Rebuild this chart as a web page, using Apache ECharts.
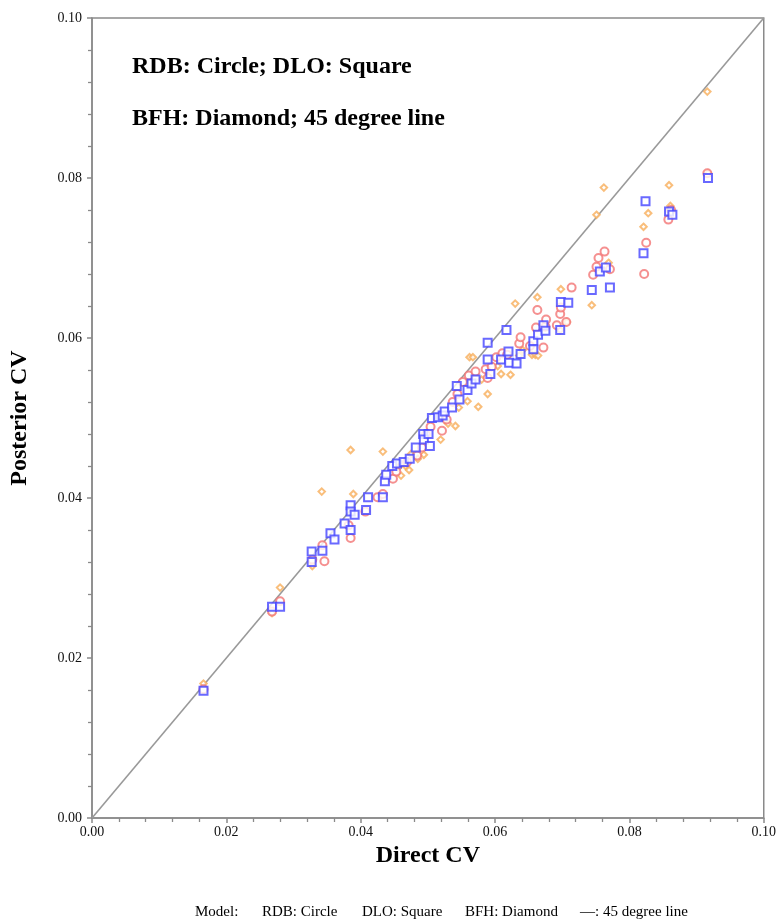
<!DOCTYPE html>
<html>
<head>
<meta charset="utf-8">
<script src="https://cdn.jsdelivr.net/npm/echarts@6/dist/echarts.min.js"></script>
<style>
  html, body { margin: 0; padding: 0; background: #fff; }
  #chart { width: 779px; height: 920px; }
</style>
</head>
<body>
<div id="chart"></div>
<script>
// 轴刻度
const axisTicks = [0, 0.02, 0.04, 0.06, 0.08, 0.10]
// 45 度参考线
const lineX = [0, 0.1]
// 底部说明文字
const footTexts = ['Model:', 'RDB: Circle', 'DLO: Square', 'BFH: Diamond', '\u2014: 45 degree line']
// RDB: circle  [direct CV, posterior CV]
const rdbData = [
    [0.0166, 0.0161], [0.0268, 0.0258], [0.0280, 0.0271], [0.0328, 0.0323], [0.0346, 0.0321],
    [0.0343, 0.0341], [0.0385, 0.0350], [0.0382, 0.0366], [0.0407, 0.0383], [0.0425, 0.0401],
    [0.0433, 0.0405], [0.0448, 0.0424], [0.0453, 0.0433], [0.0469, 0.0445], [0.0484, 0.0453],
    [0.0491, 0.0463], [0.0497, 0.0479], [0.0504, 0.0489], [0.0521, 0.0484], [0.0528, 0.0498],
    [0.0537, 0.0520], [0.0544, 0.0530], [0.0552, 0.0545], [0.0561, 0.0553], [0.0571, 0.0558],
    [0.0586, 0.0561], [0.0589, 0.0550], [0.0595, 0.0564], [0.0602, 0.0576], [0.0611, 0.0581],
    [0.0618, 0.0579], [0.0636, 0.0593], [0.0638, 0.0601], [0.0652, 0.0590], [0.0661, 0.0613],
    [0.0663, 0.0635], [0.0672, 0.0588], [0.0675, 0.0614], [0.0676, 0.0623], [0.0692, 0.0616],
    [0.0697, 0.0630], [0.0698, 0.0638], [0.0706, 0.0620], [0.0714, 0.0663], [0.0746, 0.0679],
    [0.0751, 0.0689], [0.0754, 0.0700], [0.0763, 0.0708], [0.0771, 0.0686], [0.0822, 0.0680],
    [0.0825, 0.0719], [0.0858, 0.0748], [0.0862, 0.0760], [0.0916, 0.0806]
]
// DLO: square
const dloData = [
    [0.0166, 0.0159], [0.0268, 0.0264], [0.0280, 0.0264], [0.0327, 0.0333], [0.0343, 0.0334],
    [0.0327, 0.0320], [0.0355, 0.0356], [0.0361, 0.0348], [0.0376, 0.0368], [0.0385, 0.0391],
    [0.0385, 0.0383], [0.0385, 0.0360], [0.0391, 0.0379], [0.0408, 0.0385], [0.0411, 0.0401],
    [0.0433, 0.0401], [0.0436, 0.0421], [0.0438, 0.0429], [0.0447, 0.0440], [0.0454, 0.0443],
    [0.0464, 0.0445], [0.0473, 0.0449], [0.0482, 0.0463], [0.0493, 0.0480], [0.0494, 0.0473],
    [0.0503, 0.0465], [0.0501, 0.0480], [0.0506, 0.0500], [0.0515, 0.0501], [0.0522, 0.0503],
    [0.0525, 0.0508], [0.0536, 0.0513], [0.0543, 0.0540], [0.0547, 0.0523], [0.0559, 0.0535],
    [0.0565, 0.0543], [0.0571, 0.0548], [0.0589, 0.0594], [0.0589, 0.0573], [0.0593, 0.0555],
    [0.0609, 0.0573], [0.0617, 0.0610], [0.0620, 0.0583], [0.0621, 0.0569], [0.0632, 0.0568],
    [0.0638, 0.0580], [0.0657, 0.0596], [0.0657, 0.0586], [0.0664, 0.0604], [0.0672, 0.0616],
    [0.0675, 0.0609], [0.0697, 0.0610], [0.0698, 0.0645], [0.0709, 0.0644], [0.0744, 0.0660],
    [0.0756, 0.0683], [0.0765, 0.0688], [0.0771, 0.0663], [0.0821, 0.0706], [0.0824, 0.0771],
    [0.0859, 0.0758], [0.0864, 0.0754], [0.0917, 0.0800]
]
// BFH: diamond
const bfhData = [
    [0.0166, 0.0168], [0.0280, 0.0288], [0.0268, 0.0256], [0.0328, 0.0315], [0.0342, 0.0408],
    [0.0385, 0.0460], [0.0389, 0.0405], [0.0433, 0.0458], [0.0456, 0.0438], [0.0460, 0.0428],
    [0.0467, 0.0440], [0.0472, 0.0435], [0.0475, 0.0455], [0.0485, 0.0449], [0.0494, 0.0454],
    [0.0519, 0.0473], [0.0530, 0.0493], [0.0541, 0.0490], [0.0546, 0.0513], [0.0559, 0.0521],
    [0.0562, 0.0576], [0.0567, 0.0576], [0.0575, 0.0514], [0.0580, 0.0548], [0.0589, 0.0530],
    [0.0604, 0.0565], [0.0609, 0.0555], [0.0623, 0.0554], [0.0630, 0.0643], [0.0636, 0.0578],
    [0.0641, 0.0585], [0.0655, 0.0579], [0.0660, 0.0579], [0.0663, 0.0651], [0.0664, 0.0578],
    [0.0698, 0.0661], [0.0697, 0.0610], [0.0707, 0.0620], [0.0744, 0.0641], [0.0751, 0.0754],
    [0.0762, 0.0788], [0.0769, 0.0694], [0.0821, 0.0739], [0.0828, 0.0756], [0.0859, 0.0791],
    [0.0861, 0.0765], [0.0916, 0.0908], [0.0917, 0.0806]
]

const serif = 'Liberation Serif'
const chart = echarts.init(document.getElementById('chart'), null, { renderer: 'canvas' })

const axisCommon = {
    type: 'value',
    min: axisTicks[0],
    max: axisTicks[axisTicks.length - 1],
    interval: 0.02,
    nameLocation: 'middle',
    nameTextStyle: { fontFamily: serif, fontWeight: 'bold', fontSize: 24, color: '#000' },
    axisLine: { show: true, lineStyle: { color: '#8a8a8a', width: 1.5 } },
    axisTick: { show: true, inside: false, length: 5, lineStyle: { color: '#8a8a8a', width: 1.5 } },
    minorTick: { show: true, splitNumber: 5, length: 4, lineStyle: { color: '#8a8a8a', width: 1.3 } },
    splitLine: { show: false },
    axisLabel: {
        fontFamily: serif, fontSize: 14, color: '#111',
        formatter: v => v.toFixed(2), showMinLabel: true, showMaxLabel: true
    }
}

// 底部说明的横向位置
const footLeft = [190, 257, 357, 460, 575]
const footTitles = footTexts.map((t, i) => ({
    text: t, left: footLeft[i], top: 900,
    textStyle: { fontFamily: serif, fontWeight: 'normal', fontSize: 15, color: '#000' }
}))

chart.setOption({
    backgroundColor: '#ffffff',
    animation: false,
    grid: {
        left: 92, right: 11, top: 18, bottom: 102,
        show: true, borderColor: '#8a8a8a', borderWidth: 1.5
    },
    title: [
        { text: 'RDB: Circle; DLO: Square', left: 127, top: 50,
          textStyle: { fontFamily: serif, fontWeight: 'bold', fontSize: 24, color: '#000' } },
        { text: 'BFH: Diamond; 45 degree line', left: 127, top: 102,
          textStyle: { fontFamily: serif, fontWeight: 'bold', fontSize: 24, color: '#000' } }
    ].concat(footTitles),
    xAxis: Object.assign({}, axisCommon, { name: 'Direct CV', nameGap: 24,
        axisLabel: Object.assign({}, axisCommon.axisLabel, { margin: 7 }) }),
    yAxis: Object.assign({}, axisCommon, { name: 'Posterior CV', nameGap: 60,
        axisLabel: Object.assign({}, axisCommon.axisLabel, { margin: 10 }) }),
    series: [
        {
            name: '45 degree line',
            type: 'line',
            data: lineX.map(v => [v, v]),
            symbol: 'none',
            lineStyle: { color: '#999999', width: 1.6 },
            z: 1
        },
        {
            name: 'RDB',
            type: 'scatter',
            data: rdbData,
            symbol: 'emptyCircle',
            symbolSize: 8,
            itemStyle: { color: '#f27474', borderWidth: 1.3 },
            z: 3
        },
        {
            name: 'DLO',
            type: 'scatter',
            data: dloData,
            symbol: 'emptyRect',
            symbolSize: 8,
            itemStyle: { color: '#4444ff', borderWidth: 1.3 },
            z: 4
        },
        {
            name: 'BFH',
            type: 'scatter',
            data: bfhData,
            symbol: 'emptyDiamond',
            symbolSize: 6.5,
            itemStyle: { color: '#f8ae5a', borderWidth: 1.2 },
            z: 2
        }
    ]
})
</script>
</body>
</html>
